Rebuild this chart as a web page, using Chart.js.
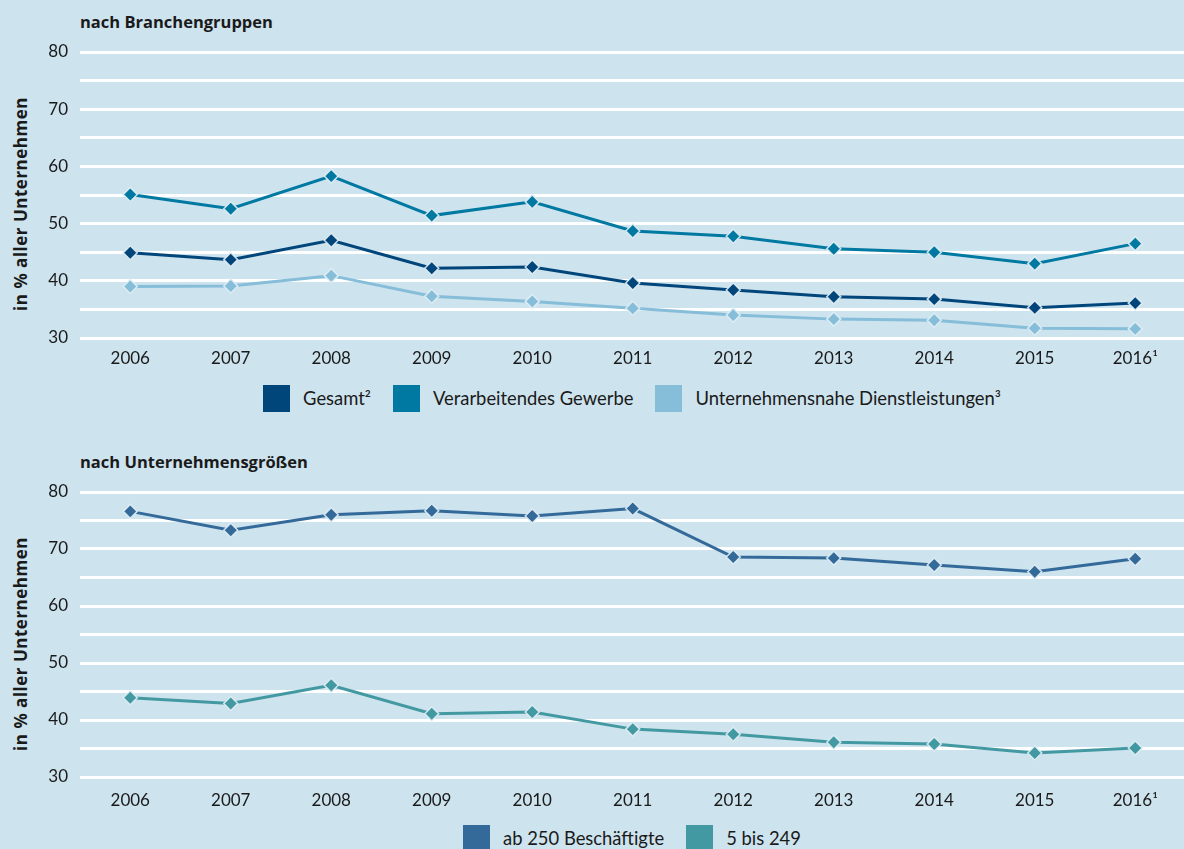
<!DOCTYPE html>
<html lang="de">
<head>
<meta charset="utf-8">
<script src="https://cdn.jsdelivr.net/npm/chart.js@4.4.1/dist/chart.umd.min.js"></script>
<style>
    html, body { margin: 0; padding: 0; }
    body {
        width: 1184px;
        height: 849px;
        background: #cde3ee;
        position: relative;
        overflow: hidden;
        font-family: Lato, "Open Sans", sans-serif;
        color: #1a1a1a;
    }
    .panel { position: absolute; left: 0; width: 1194px; height: 380px; }
    .titel { position: absolute; left: 80px; font-family: "Open Sans", sans-serif; font-weight: bold; font-size: 16.5px; }
    .achse {
        position: absolute; left: 20px; white-space: nowrap;
        font-family: "Open Sans", sans-serif; font-weight: bold; font-size: 17px; letter-spacing: 0.5px;
        transform: translate(-50%, -50%) rotate(-90deg);
    }
    .legende {
        position: absolute; left: 80px; width: 1104px;
        display: flex; justify-content: center; font-size: 18.4px; line-height: 27px;
    }
    .legende .eintrag { display: flex; align-items: center; margin: 0 11px; }
    .legende .box { width: 27px; height: 27px; margin-right: 13px; }
</style>
</head>
<body>
<div class="titel" style="top: 10px;">nach Branchengruppen</div>
<div class="achse" style="top: 204px;">in % aller Unternehmen</div>
<div class="panel" style="top: 0;"><canvas id="grafica-branchen"></canvas></div>
<div class="legende" id="legende-branchen" style="top: 385px;"></div>

<div class="titel" style="top: 450px;">nach Unternehmensgrößen</div>
<div class="achse" style="top: 644px;">in % aller Unternehmen</div>
<div class="panel" style="top: 440px;"><canvas id="grafica-groessen"></canvas></div>
<div class="legende" id="legende-groessen" style="top: 825px;"></div>

<script>
// Daten
const jahre = ['2006', '2007', '2008', '2009', '2010', '2011', '2012', '2013', '2014', '2015', '2016¹'];

const gesamt = [44.9, 43.7, 47.1, 42.2, 42.4, 39.6, 38.4, 37.2, 36.8, 35.3, 36.1];
const verarbeitendesGewerbe = [55.1, 52.6, 58.3, 51.4, 53.8, 48.7, 47.8, 45.6, 45.0, 43.0, 46.5];
const dienstleistungen = [39.0, 39.1, 40.9, 37.3, 36.4, 35.2, 34.0, 33.3, 33.1, 31.7, 31.6];

const ab250 = [76.6, 73.3, 76.0, 76.7, 75.8, 77.1, 68.6, 68.4, 67.2, 66.0, 68.3];
const bis249 = [43.9, 42.9, 46.1, 41.1, 41.4, 38.4, 37.5, 36.1, 35.8, 34.2, 35.1];

(function(){
    const schrift = 'Lato, "Open Sans", sans-serif';

    function datensatz(label, werte, farbe) {
        return {
            label: label,
            data: werte,
            borderColor: farbe,
            backgroundColor: farbe,
            borderWidth: 3,
            pointStyle: 'rectRot',
            pointRadius: 7,
            pointHoverRadius: 7,
            pointBorderColor: 'rgba(225,238,245,0.9)',
            pointBorderWidth: 1.5,
            tension: 0
        };
    }

    function legende(id, datasets) {
        const cont = document.getElementById(id);
        datasets.forEach(ds => {
            const e = document.createElement('div');
            e.className = 'eintrag';
            const b = document.createElement('span');
            b.className = 'box';
            b.style.background = ds.borderColor;
            const t = document.createElement('span');
            t.textContent = ds.label;
            e.appendChild(b);
            e.appendChild(t);
            cont.appendChild(e);
        });
    }

    function grafica(id, datasets, achseHoehe, tickAbstand) {
        const ctx = document.getElementById(id);
        new Chart(ctx, {
            type: 'line',
            data: { labels: jahre, datasets: datasets },
            options: {
                responsive: true,
                maintainAspectRatio: false,
                animation: false,
                layout: { padding: { top: 52, left: 0, right: 0, bottom: 0 } },
                plugins: {
                    legend: { display: false },
                    tooltip: { enabled: false }
                },
                scales: {
                    x: {
                        offset: true,
                        grid: { display: false, drawTicks: false },
                        border: { display: false },
                        ticks: { color: '#1a1a1a', font: { family: schrift, size: 17 }, padding: tickAbstand, maxRotation: 0 },
                        afterFit: s => { s.height = achseHoehe; }
                    },
                    y: {
                        min: 30,
                        max: 80,
                        grid: { color: '#ffffff', lineWidth: 3, drawTicks: false },
                        border: { display: false },
                        ticks: {
                            stepSize: 5,
                            padding: 12,
                            color: '#1a1a1a',
                            font: { family: schrift, size: 17 },
                            callback: v => (v % 10 === 0 ? v : '')
                        },
                        afterFit: s => { s.width = 80; }
                    }
                }
            }
        });
    }

    const oben = [
        datensatz('Gesamt²', gesamt, '#00467b'),
        datensatz('Verarbeitendes Gewerbe', verarbeitendesGewerbe, '#0079a2'),
        datensatz('Unternehmensnahe Dienstleistungen³', dienstleistungen, '#86bdd9')
    ];
    const unten = [
        datensatz('ab 250 Beschäftigte', ab250, '#336a9a'),
        datensatz('5 bis 249', bis249, '#4399a2')
    ];

    grafica('grafica-branchen', oben, 42, 10);
    grafica('grafica-groessen', unten, 43, 13);
    legende('legende-branchen', oben);
    legende('legende-groessen', unten);
})();
</script>
</body>
</html>
